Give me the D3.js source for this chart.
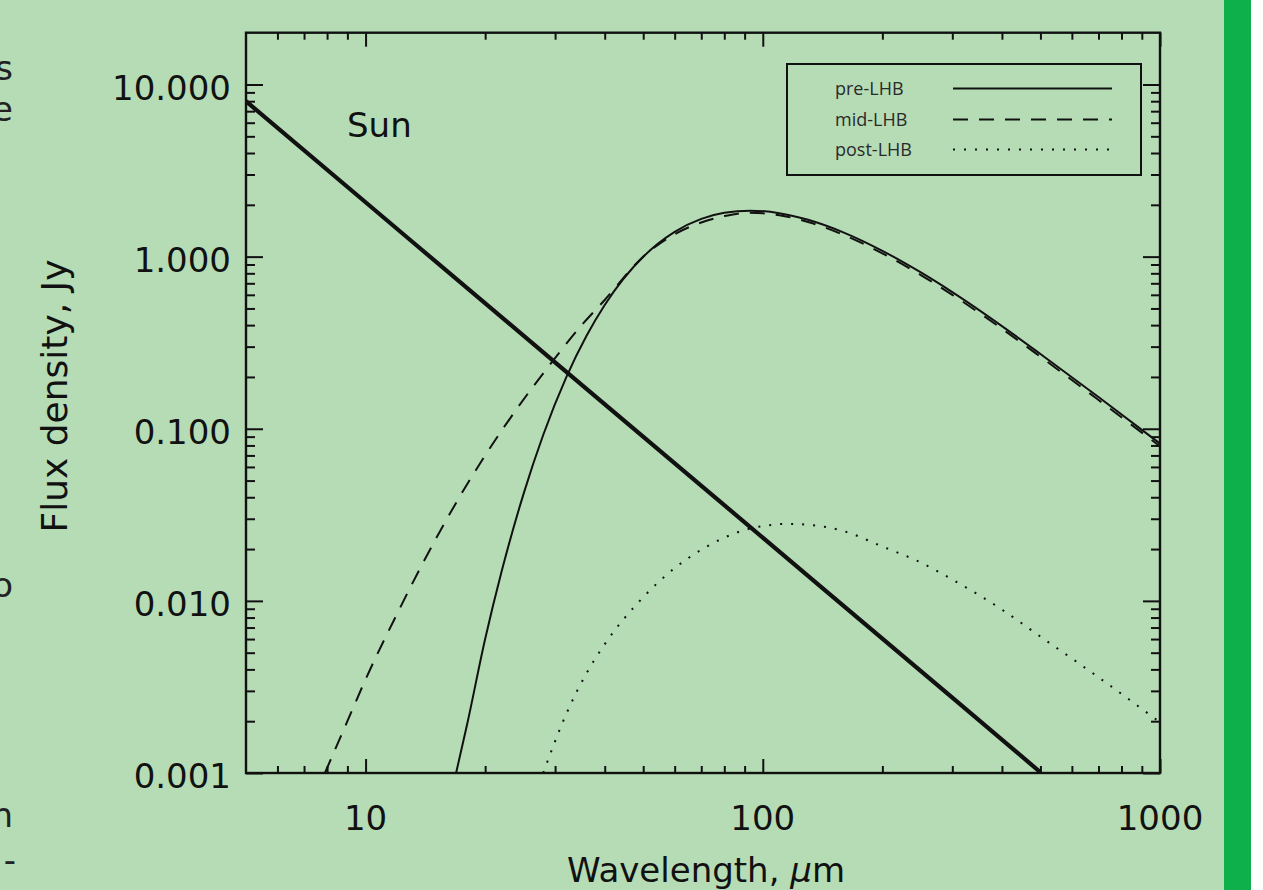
<!DOCTYPE html>
<html><head><meta charset="utf-8">
<script src="https://cdn.jsdelivr.net/npm/d3@7"></script>
<style>html,body{margin:0;padding:0;background:#b6dcb5;} svg{display:block}</style>
</head><body><svg id="c" width="1263" height="890"></svg>
<script>
// ---- data ----
const sunWavelength = [5, 10, 30, 100, 300, 500];
const sunFlux       = [8.0, 2.07, 0.243, 0.0233, 0.00274, 0.00101];

const preWavelength = [16.9,18,20,22,25,28,32,36,40,50,60,70,80,93,110,130,160,200,250,300,400,500,700,1000];
const preFlux       = [0.001,0.0019,0.006,0.0148,0.042,0.092,0.199,0.347,0.524,0.998,1.393,1.657,1.797,1.85,1.789,1.638,1.380,1.081,0.809,0.622,0.395,0.272,0.153,0.082];

const midWavelength = [7.9,9,10,12,14,17,20,24,29,35,40,50,60,70,80,92,110,130,160,200,250,300,400,500,700,1000];
const midFlux       = [0.001,0.002,0.0035,0.0084,0.0169,0.038,0.07,0.13,0.233,0.40,0.56,1.0,1.35,1.58,1.72,1.80,1.74,1.59,1.335,1.045,0.782,0.6,0.381,0.262,0.147,0.079];

const postWavelength = [28,32,36,40,50,60,70,80,90,100,115,130,160,200,250,300,400,500,700,1000];
const postFlux       = [0.001,0.0022,0.0038,0.0056,0.0105,0.0155,0.0198,0.0233,0.0258,0.0272,0.028,0.0277,0.0254,0.0207,0.0167,0.0133,0.0089,0.0062,0.0036,0.00197];

const xMajorTicks = [10, 100, 1000];
const xMinorTicks = [6,7,8,9,20,30,40,50,60,70,80,90,200,300,400,500,600,700,800,900];
const xTickLabels = ["10", "100", "1000"];
const yMajorTicks = [0.001, 0.01, 0.1, 1, 10];
const yMinorTicks = [0.002,0.003,0.004,0.005,0.006,0.007,0.008,0.009,
                     0.02,0.03,0.04,0.05,0.06,0.07,0.08,0.09,
                     0.2,0.3,0.4,0.5,0.6,0.7,0.8,0.9,
                     2,3,4,5,6,7,8,9];
const yTickLabels = ["0.001", "0.010", "0.100", "1.000", "10.000"];

const legendLabels = ["pre-LHB", "mid-LHB", "post-LHB"];
const sideFragments = ["s", "e", "o", "n", "-"];

// ---- layout ----
const svg = d3.select("#c");
const L = 246, R = 1160, T = 32.7, B = 773;
const x = d3.scaleLog().domain([5, 1000]).range([L, R]);
const y = d3.scaleLog().domain([0.001, 20]).range([B, T]);
const ink = "#111";
const font = "DejaVu Sans, sans-serif";

svg.append("rect").attr("x",0).attr("y",0).attr("width",1263).attr("height",890).attr("fill","#b6dcb5");
svg.append("rect").attr("x",1224).attr("y",0).attr("width",27).attr("height",890).attr("fill","#0db04b");
svg.append("rect").attr("x",1251).attr("y",0).attr("width",12).attr("height",890).attr("fill","#ffffff");

// side fragments of page text (cut by the left edge, as in the reference)
const fragY = [80, 121, 597, 827, 872];
svg.selectAll("text.frag").data(sideFragments).join("text")
  .attr("class","frag").attr("x", (d,i)=> i===4 ? 16 : 13).attr("y",(d,i)=>fragY[i])
  .attr("text-anchor","end").attr("font-family",font).attr("font-size",34).attr("fill","#222")
  .text(d=>d);

// clip
svg.append("clipPath").attr("id","plot").append("rect")
  .attr("x",L).attr("y",T).attr("width",R-L).attr("height",B-T);

// ticks via axes
function ax(gen, tr, vals, size){
  const g = svg.append("g").attr("transform",tr)
    .call(gen.tickValues(vals).tickSize(size).tickSizeOuter(0).tickFormat(""));
  g.select(".domain").remove();
  g.selectAll("line").attr("stroke",ink).attr("stroke-width",2);
}
ax(d3.axisBottom(x), `translate(0,${B})`, xMajorTicks, -14);
ax(d3.axisBottom(x), `translate(0,${B})`, xMinorTicks, -7);
ax(d3.axisTop(x), `translate(0,${T})`, xMajorTicks, -14);
ax(d3.axisTop(x), `translate(0,${T})`, xMinorTicks, -7);
ax(d3.axisLeft(y), `translate(${L},0)`, yMajorTicks, -17);
ax(d3.axisLeft(y), `translate(${L},0)`, yMinorTicks, -9);
ax(d3.axisRight(y), `translate(${R},0)`, yMajorTicks, -17);
ax(d3.axisRight(y), `translate(${R},0)`, yMinorTicks, -9);

svg.append("rect").attr("x",L).attr("y",T).attr("width",R-L).attr("height",B-T)
  .attr("fill","none").attr("stroke",ink).attr("stroke-width",2.4);

// tick labels
svg.selectAll("text.xl").data(xMajorTicks).join("text").attr("class","xl")
  .attr("x",d=>x(d)).attr("y",830).attr("text-anchor","middle")
  .attr("font-family",font).attr("font-size",34).attr("fill",ink)
  .text((d,i)=>xTickLabels[i]);
svg.selectAll("text.yl").data(yMajorTicks).join("text").attr("class","yl")
  .attr("x",231).attr("y",d=>y(d)+15).attr("text-anchor","end")
  .attr("font-family",font).attr("font-size",34).attr("fill",ink)
  .text((d,i)=>yTickLabels[i]);

// axis titles
const xt = svg.append("text").attr("x",(L+R)/2+3).attr("y",882).attr("text-anchor","middle")
  .attr("font-family",font).attr("font-size",34).attr("fill",ink);
xt.append("tspan").text("Wavelength, ");
xt.append("tspan").attr("font-style","italic").text("\u03bc");
xt.append("tspan").text("m");
svg.append("text").attr("transform",`translate(67,396) rotate(-90)`)
  .attr("text-anchor","middle").attr("font-family",font).attr("font-size",36).attr("fill",ink)
  .text("Flux density, Jy");

svg.append("text").attr("x",347).attr("y",137).attr("font-family",font).attr("font-size",34)
  .attr("fill",ink).text("Sun");

// curves
const line = d3.line().x(d=>x(d[0])).y(d=>y(d[1])).curve(d3.curveMonotoneX);
const zip = (a,b)=>a.map((v,i)=>[v,b[i]]);
const gc = svg.append("g").attr("clip-path","url(#plot)");
gc.append("path").datum(zip(sunWavelength,sunFlux)).attr("d",line)
  .attr("fill","none").attr("stroke",ink).attr("stroke-width",4.2);
gc.append("path").datum(zip(preWavelength,preFlux)).attr("d",line)
  .attr("fill","none").attr("stroke",ink).attr("stroke-width",2);
gc.append("path").datum(zip(midWavelength,midFlux)).attr("d",line)
  .attr("fill","none").attr("stroke",ink).attr("stroke-width",2).attr("stroke-dasharray","15,11");
gc.append("path").datum(zip(postWavelength,postFlux)).attr("d",line)
  .attr("fill","none").attr("stroke",ink).attr("stroke-width",2).attr("stroke-dasharray","2,9");

// legend
svg.append("rect").attr("x",787).attr("y",64).attr("width",354).attr("height",111)
  .attr("fill","#b6dcb5").attr("stroke",ink).attr("stroke-width",2);
const dashes = [null, "15,11", "2,9"];
const ly = [88.5, 119.5, 149.5];
legendLabels.forEach((lab,i)=>{
  svg.append("text").attr("x",835).attr("y",ly[i]+6).attr("font-family","Open Sans, sans-serif")
    .attr("font-size",18).attr("fill","#2a2a2a").text(lab);
  const l = svg.append("line").attr("x1",953).attr("x2",1112).attr("y1",ly[i]).attr("y2",ly[i])
    .attr("stroke",ink).attr("stroke-width",2);
  if (dashes[i]) l.attr("stroke-dasharray",dashes[i]);
});
</script></body></html>
